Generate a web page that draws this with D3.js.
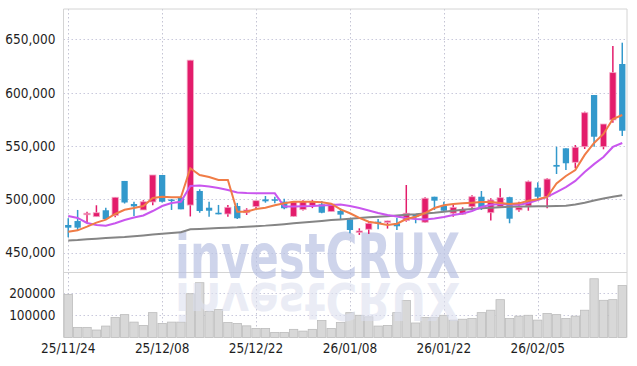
<!DOCTYPE html>
<html>
<head>
<meta charset="utf-8">
<script src="https://cdn.jsdelivr.net/npm/d3@7"></script>
<style>
  html, body { margin: 0; padding: 0; background: #fff; }
  .lbl { font-family: "DejaVu Sans Condensed", "Liberation Sans Narrow", sans-serif; font-size: 13.5px; fill: #1e1e1e; }
</style>
</head>
<body>
<div id="chart"></div>
<script>
// trading days (yy/mm/dd)
const dates = [
  '25/11/24','25/11/25','25/11/26','25/11/27','25/11/28','25/12/01','25/12/02','25/12/03','25/12/04','25/12/05',
  '25/12/08','25/12/09','25/12/10','25/12/11','25/12/12','25/12/15','25/12/16','25/12/17','25/12/18','25/12/19',
  '25/12/22','25/12/23','25/12/24','25/12/26','25/12/29','25/12/30','26/01/02','26/01/05','26/01/06','26/01/07',
  '26/01/08','26/01/09','26/01/12','26/01/13','26/01/14','26/01/15','26/01/16','26/01/19','26/01/20','26/01/21',
  '26/01/22','26/01/23','26/01/26','26/01/27','26/01/28','26/01/29','26/01/30','26/02/02','26/02/03','26/02/04',
  '26/02/05','26/02/06','26/02/09','26/02/10','26/02/11','26/02/12','26/02/13','26/02/19','26/02/20','26/02/23'
]
const opens = [
  475900,479600,486000,483700,489700,484800,517200,495600,490000,497500,
  522800,499800,501700,494600,507800,492100,487400,486200,493700,487400,
  493100,499900,500000,497800,484000,490300,494300,495300,488500,489000,
  481200,469000,471900,479000,478400,477500,480000,485300,478500,502400,
  493700,487000,486000,493000,502400,487400,493000,502000,490000,493700,
  510900,502400,532200,547800,534700,549300,597800,549300,574400,626900
]
const highs = [
  482200,490000,488400,494400,492100,502200,517200,497700,499100,522800,
  522800,500200,503100,630700,509400,497700,494700,494700,496600,491600,
  498700,503100,502400,500600,497700,499000,499300,498400,496200,491500,
  481200,472800,479000,481500,479900,482700,513400,485900,502000,502400,
  497800,494700,492500,503700,507800,500900,510300,502400,497800,517500,
  515900,519700,549300,547800,550900,582200,597800,570600,643800,646900
]
const lows = [
  464400,471200,478000,483700,480800,483100,496000,484300,490000,494500,
  497000,490000,490600,483900,487400,483700,485900,483700,481500,485300,
  490600,496800,496200,490600,483500,489400,491700,486900,488500,481500,
  468100,466600,467500,471900,472500,471200,479000,477500,478000,490000,
  488300,483700,485600,491600,490000,480000,493000,477500,488400,489300,
  500000,491600,523700,527500,529100,547200,549300,546900,571800,559400
]
const closes = [
  473400,473400,486900,487400,481500,501900,497000,493400,497700,522800,
  497700,498800,490600,630500,489000,489300,485900,492500,482200,490000,
  498700,498100,498700,491600,497400,497700,497600,487400,495600,485600,
  471200,470300,477500,477500,479700,474700,486900,483700,501000,498700,
  489300,492500,490600,502400,492500,499300,501500,481800,492500,516500,
  502400,519000,530600,533800,548800,581200,558700,570600,618800,564300
]
const volumes = [
  196000,46000,46000,34000,52000,91000,104000,70000,55000,113000,
  64000,70000,70000,199000,249000,119000,127000,68000,64000,53000,
  41000,41000,23000,23000,37000,29000,37000,77000,41000,68000,
  113000,101000,94000,52000,55000,113000,168000,66000,91000,91000,
  101000,79000,83000,86000,113000,124000,172000,86000,97000,101000,
  79000,109000,104000,86000,97000,124000,267000,169000,172000,236000
]
// moving averages
const ma5 = [
  469600,470900,474300,478100,480900,486200,490200,491800,493700,501200,
  502400,501900,501900,529100,522800,520900,518100,518100,488400,488400,
  490900,492100,494400,496200,497700,497700,497700,497200,495900,490600,
  486900,482500,479000,477500,475900,477100,481500,483700,487100,491800,
  494400,495600,496200,496800,497500,497500,496500,495600,496200,498700,
  500000,502200,514800,521900,527500,541600,552800,561300,575300,579100
]
const ma10 = [
  484300,482500,477800,475900,475200,477500,480600,482900,484800,489000,
  493700,496500,497700,512500,512900,512000,510600,508700,506400,505900,
  505600,505600,505600,493200,493200,493400,493700,494200,494700,495100,
  493700,491800,489500,487100,485300,483900,482500,481500,481100,482000,
  483400,485300,486700,489000,492800,494900,495600,495100,494900,496500,
  499300,502200,506800,511500,517200,525600,533000,539700,549100,552800
]
const ma60 = [
  461400,461800,462500,463000,463600,464200,464700,465400,466100,466900,
  467600,468400,469100,471900,472200,472600,473000,473400,473700,474200,
  474800,475300,476000,476700,477500,478200,479000,479700,480500,481100,
  481800,482500,483100,483700,484200,484800,485400,485900,486600,487300,
  488300,489200,490200,490900,491600,492100,492600,493000,493200,493300,
  493400,493500,493700,494000,495100,496700,498900,500800,502300,503800
]
const priceTicks = [450000, 500000, 550000, 600000, 650000]
const volumeTicks = [100000, 200000]
const dateTicks = ['25/11/24', '25/12/08', '25/12/22', '26/01/08', '26/01/22', '26/02/05']

const width = 637
const height = 366
const plot = { left: 63.5, right: 627, top: 9, split: 272, bottom: 337.5 }

const svg = d3.select('#chart').append('svg')
  .attr('width', width)
  .attr('height', height)

const x = d3.scaleBand()
  .domain(dates)
  .range([plot.left, plot.right])
  .paddingInner(0.33)
  .paddingOuter(0.17)
const xc = d => x(d) + x.bandwidth() / 2
const step = x.step()

const y = d3.scaleLinear()
  .domain([431800, 678500])
  .range([plot.split, plot.top])

const yv = d3.scaleLinear()
  .domain([0, 297700])
  .range([plot.bottom, plot.split])

// grid
const grid = svg.append('g')
grid.selectAll('.hg').data(priceTicks).enter().append('line')
  .attr('x1', plot.left).attr('x2', plot.right)
  .attr('y1', d => Math.round(y(d)) + 0.5).attr('y2', d => Math.round(y(d)) + 0.5)
  .attr('stroke', '#c9c9dc').attr('stroke-dasharray', '1.5,2.5')
grid.selectAll('.vg').data(volumeTicks).enter().append('line')
  .attr('x1', plot.left).attr('x2', plot.right)
  .attr('y1', d => Math.round(yv(d)) + 0.5).attr('y2', d => Math.round(yv(d)) + 0.5)
  .attr('stroke', '#c9c9dc').attr('stroke-dasharray', '1.5,2.5')
grid.selectAll('.xg').data(dateTicks).enter().append('line')
  .attr('x1', d => Math.round(xc(d)) + 0.5).attr('x2', d => Math.round(xc(d)) + 0.5)
  .attr('y1', plot.top).attr('y2', plot.bottom)
  .attr('stroke', '#c4c4d4').attr('stroke-dasharray', '1.5,2.5')

// frame
svg.append('path')
  .attr('d', `M${plot.left},${plot.bottom}V${plot.top}H${plot.right}V${plot.bottom}`)
  .attr('fill', 'none').attr('stroke', '#d4d4d4')
svg.append('line')
  .attr('x1', plot.left).attr('x2', plot.right)
  .attr('y1', plot.split + 0.5).attr('y2', plot.split + 0.5)
  .attr('stroke', '#d4d4d4')

// volume bars
svg.append('g').selectAll('rect').data(dates).enter().append('rect')
  .attr('x', d => x(d) - x.step() * x.paddingInner() / 2 + 0.5)
  .attr('width', step - 1)
  .attr('y', (d, i) => yv(volumes[i]))
  .attr('height', (d, i) => plot.bottom - yv(volumes[i]))
  .attr('fill', '#d8d8d8').attr('stroke', '#bcbcbc').attr('stroke-width', 0.8)

// watermark with its mirrored reflection
const wm = svg.append('g').attr('font-family', '"DejaVu Sans", sans-serif')
  .attr('font-weight', 'bold').attr('font-size', 62)
wm.append('text')
  .attr('x', 175).attr('y', 278)
  .attr('textLength', 285).attr('lengthAdjust', 'spacingAndGlyphs')
  .attr('fill', '#b9c2e2').attr('fill-opacity', 0.7)
  .text('investCRUX')
wm.append('text')
  .attr('transform', 'translate(0,283) scale(1,-0.82) translate(0,-278)')
  .attr('x', 175).attr('y', 278)
  .attr('textLength', 285).attr('lengthAdjust', 'spacingAndGlyphs')
  .attr('fill', '#dde0ef').attr('fill-opacity', 0.6)
  .text('investCRUX')

// candles
const up = '#e31c6b'
const down = '#3399cc'
const candles = svg.append('g').selectAll('g').data(dates).enter().append('g')
candles.append('line')
  .attr('x1', d => xc(d)).attr('x2', d => xc(d))
  .attr('y1', (d, i) => y(highs[i])).attr('y2', (d, i) => y(lows[i]))
  .attr('stroke', (d, i) => closes[i] >= opens[i] ? up : down)
  .attr('stroke-width', 1.5)
candles.append('rect')
  .attr('x', d => x(d))
  .attr('width', x.bandwidth())
  .attr('y', (d, i) => y(Math.max(opens[i], closes[i])))
  .attr('height', (d, i) => Math.max(1.5, Math.abs(y(opens[i]) - y(closes[i]))))
  .attr('fill', (d, i) => closes[i] >= opens[i] ? up : down)
  .attr('stroke', (d, i) => closes[i] >= opens[i] ? '#f3a9c6' : 'none')
  .attr('stroke-width', 0.8)

// moving averages
const line = d3.line().x((d, i) => xc(dates[i])).y(d => y(d))
svg.append('path').datum(ma60).attr('d', line)
  .attr('fill', 'none').attr('stroke', '#858585').attr('stroke-width', 2)
svg.append('path').datum(ma10).attr('d', line)
  .attr('fill', 'none').attr('stroke', '#c956ee').attr('stroke-width', 2)
svg.append('path').datum(ma5).attr('d', line)
  .attr('fill', 'none').attr('stroke', '#f07c46').attr('stroke-width', 2)

// axes
const yAxis = svg.append('g')
  .attr('transform', `translate(${plot.left},0)`)
  .call(d3.axisLeft(y).tickValues(priceTicks).tickSize(0).tickPadding(8).tickFormat(d3.format(',')))
const vAxis = svg.append('g')
  .attr('transform', `translate(${plot.left},0)`)
  .call(d3.axisLeft(yv).tickValues(volumeTicks).tickSize(0).tickPadding(8).tickFormat(d3.format('d')))
const xAxis = svg.append('g')
  .attr('transform', `translate(0,${plot.bottom})`)
  .call(d3.axisBottom(x).tickValues(dateTicks).tickSize(0).tickPadding(6))
;[yAxis, vAxis, xAxis].forEach(a => {
  a.select('.domain').remove()
  a.selectAll('text').attr('class', 'lbl').attr('fill', null)
})
</script>
</body>
</html>
